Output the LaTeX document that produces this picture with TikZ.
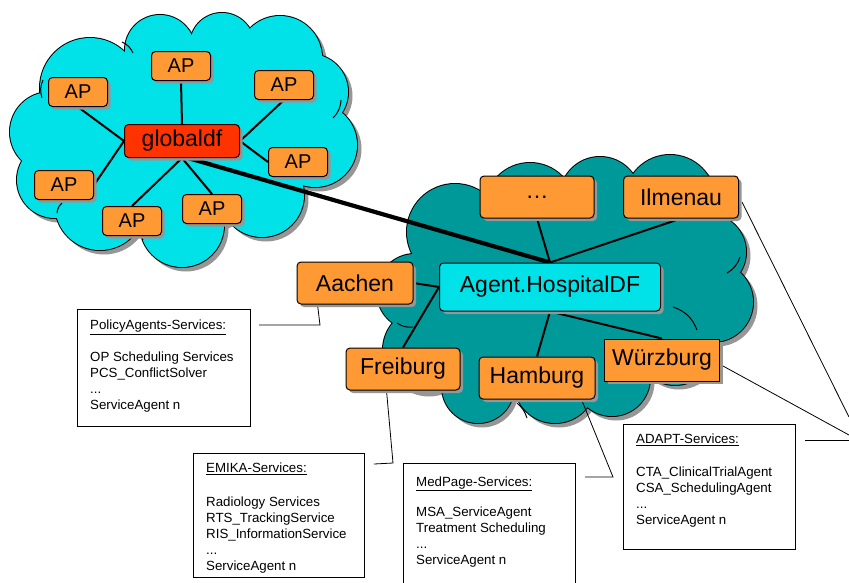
\documentclass[tikz,border=0pt]{standalone}
\usepackage{fontspec}
\setmainfont{Liberation Sans}
\usetikzlibrary{shadows,calc}
\definecolor{lcyan}{RGB}{0,225,232}
\definecolor{dteal}{RGB}{0,153,153}
\definecolor{orng}{RGB}{255,153,51}
\definecolor{redd}{RGB}{255,51,0}
\definecolor{shad}{RGB}{150,150,150}
\pgfdeclarelayer{cloudlayer}
\pgfdeclarelayer{linklayer}
\pgfsetlayers{cloudlayer,linklayer,main}
\tikzset{
  box/.style={draw=black, line width=1pt, rounded corners=4pt, fill=orng, inner sep=0pt,
    general shadow={fill=shad, shadow xshift=3pt, shadow yshift=-3pt},
    font=\fontsize{23}{26}\selectfont},
  apbox/.style={box, minimum width=59pt, minimum height=29pt, font=\fontsize{20}{24}\selectfont},
  citybox/.style={box, minimum width=115pt, minimum height=42pt},
  link/.style={line width=2pt},
  thicklink/.style={line width=4.2pt},
  thinlink/.style={line width=0.8pt},
  infobox/.style={draw, line width=0.8pt, fill=white, inner sep=0pt, anchor=north west},
  infotext/.style={align=left, anchor=north west, inner sep=0pt, font=\fontsize{13.3}{16}\selectfont},
}
\begin{document}
\begin{tikzpicture}[x=1pt,y=-1pt]
\useasboundingbox (0,0) rectangle (849,582);

% ---------- nodes ----------
\node[apbox] (ap1) at (181,66) {AP};
\node[apbox] (ap2) at (78,92) {AP};
\node[apbox] (ap3) at (284,85) {AP};
\node[apbox] (ap4) at (298,162) {AP};
\node[apbox] (ap5) at (64,185) {AP};
\node[apbox] (ap6) at (132,221) {AP};
\node[apbox] (ap7) at (212,209) {AP};
\node[box, fill=redd, minimum width=115pt, minimum height=33pt] (gdf) at (182,141) {globaldf};

\node[citybox, minimum width=114pt] (dots) at (537,197) {\ldots};
\node[citybox] (ilm) at (681,197) {Ilmenau};
\node[box, fill=lcyan, minimum width=221pt, minimum height=48pt] (hdf) at (550,287) {Agent.HospitalDF};
\node[citybox, rounded corners=0pt] (wue) at (662,360) {Würzburg};
\node[citybox, minimum width=116pt] (ham) at (537,378) {Hamburg};
\node[citybox, minimum width=116pt] (aac) at (355,283) {Aachen};
\node[citybox, minimum width=114pt] (fre) at (403,369) {Freiburg};

% ---------- info boxes ----------
\node[infobox, minimum width=173pt, minimum height=117pt] (polbox) at (77,309) {};
\node[infotext] (poltext) at (90,320) {\underline{PolicyAgents-Services:}\\[16pt]OP Scheduling Services\\PCS\_ConflictSolver\\...\\ServiceAgent n};

\node[infobox, minimum width=171pt, minimum height=124pt] (emibox) at (193,453) {};
\node[infotext] (emitext) at (206,462.5) {\underline{EMIKA-Services:}\\[18pt]Radiology Services\\RTS\_TrackingService\\RIS\_InformationService\\...\\ServiceAgent n};

\node[infobox, minimum width=172pt, minimum height=130pt] (medbox) at (403,463) {};
\node[infotext] (medtext) at (416,476.5) {\underline{MedPage-Services:}\\[14pt]MSA\_ServiceAgent\\Treatment Scheduling\\...\\ServiceAgent n};

\node[infobox, minimum width=172pt, minimum height=125pt] (adabox) at (623,424) {};
\node[infotext] (adatext) at (636,433.5) {\underline{ADAPT-Services:}\\[17pt]CTA\_ClinicalTrialAgent\\CSA\_SchedulingAgent\\...\\ServiceAgent n};

% ---------- connectors ----------
\begin{pgfonlayer}{linklayer}
  \draw[link] (gdf.north) -- (ap1.south);
  \draw[link] (gdf.west) -- (ap2.south);
  \draw[link] (gdf.west) -- (ap5.east);
  \draw[link] (gdf.south) -- (ap6.north);
  \draw[link] (gdf.south) -- (ap7.north);
  \draw[link] (gdf.east) -- (ap3.south);
  \draw[link] (gdf.east) -- (ap4.west);
  \draw[thicklink] ($(gdf.south)+(6,0)$) -- (hdf.north);
  \draw[link] (hdf.north) -- (dots.south);
  \draw[link] (hdf.north) -- (ilm.south);
  \draw[link] (aac.east) -- (hdf.west);
  \draw[link] (hdf.west) -- (fre.north);
  \draw[link] (hdf.south) -- (ham.north);
  \draw[link] (hdf.south) -- (wue.north);

  \coordinate (pa) at (259,325);
  \coordinate (pb) at (320,325);
  \draw[thinlink] (pa) -- (pb) -- ($(aac.south west)+(21,0)$);
  \coordinate (ea) at (374,464);
  \coordinate (eb) at (393,463);
  \draw[thinlink] (ea) -- (eb) -- ($(fre.south west)+(41,0)$);
  \coordinate (ma) at (585,477);
  \coordinate (mb) at (613,477);
  \draw[thinlink] (ma) -- (mb) -- ($(ham.south west)+(103,0)$);
  \coordinate (aa) at (805,440);
  \coordinate (ab) at (849,440);
  \coordinate (ac) at (849,417);
  \coordinate (ad) at (849,435);
  \draw[thinlink] (aa) -- (ab);
  \draw[thinlink] ($(ilm.east)+(3,5)$) -- (ac);
  \draw[thinlink] ($(wue.east)+(3,6)$) -- (ad);
\end{pgfonlayer}

% ---------- clouds ----------
\def\leftcloud{90/88/50, 160/50/35, 222/45/32, 280/58/42, 310/92/38, 315/145/42, 262/195/42, 182/225/42, 100/205/45, 55/180/38, 50/132/40, 180/140/95, 95/145/42, 272/115/42, 140/90/40, 235/95/40, 230/180/40, 130/190/40}
\def\rightcloud{455/232/48, 530/208/45, 600/197/40, 670/200/45, 708/252/38, 713/302/40, 675/345/40, 612/378/38, 555/382/41, 478/387/36, 425/350/42, 415/292/38, 560/290/100, 660/270/45, 470/330/45}
\begin{pgfonlayer}{cloudlayer}
  \fill[white] (0,0) rectangle (849,582);
  \foreach \cx/\cy/\r in \leftcloud {\fill[shad] (\cx+4,\cy+4) circle[radius=\r pt+0.5pt];}
  \foreach \cx/\cy/\r in \rightcloud {\fill[shad] (\cx+4,\cy+4) circle[radius=\r pt+0.5pt];}
  \foreach \cx/\cy/\r in \leftcloud {\draw[line width=2pt, fill=lcyan] (\cx,\cy) circle[radius=\r pt];}
  \foreach \cx/\cy/\r in \leftcloud {\fill[lcyan] (\cx,\cy) circle[radius=\r pt];}
  \foreach \cx/\cy/\r in \rightcloud {\draw[line width=2pt, fill=dteal] (\cx,\cy) circle[radius=\r pt];}
  \foreach \cx/\cy/\r in \rightcloud {\fill[dteal] (\cx,\cy) circle[radius=\r pt];}
  % interior arcs
  \draw[line width=1pt] (42,98) to[bend left=20] (43,80);
  \draw[line width=1pt] (122,42) to[bend left=20] (133,53);
  \draw[line width=1pt] (333,118) to[bend right=20] (341,100);
  \draw[line width=1pt] (143,240) to[bend left=20] (140,228);
  \draw[line width=1pt] (57,213) to[bend left=20] (62,203);
  \draw[line width=1pt] (727,273) to[bend right=20] (740,257);
  \draw[line width=1pt] (673,307) to[bend left=25] (697,330);
  \draw[line width=1pt] (397,323) to[bend right=20] (413,327);
  \draw[line width=1pt] (517,403) to[bend left=15] (527,418);
\end{pgfonlayer}
\end{tikzpicture}
\end{document}
